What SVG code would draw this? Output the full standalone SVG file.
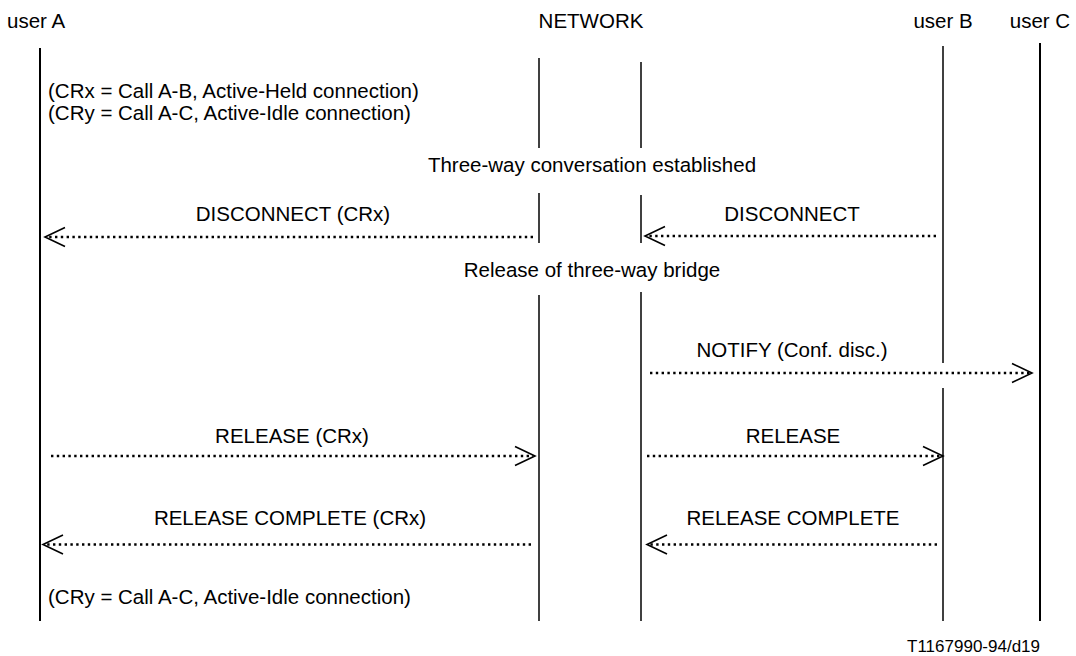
<svg xmlns="http://www.w3.org/2000/svg" width="1076" height="656" viewBox="0 0 1076 656">
<style>
text{font-family:"Liberation Sans",Arial,sans-serif;font-size:20.5px;fill:#000}
.c{text-anchor:middle}
.ll{stroke:#000;stroke-width:1.5;fill:none}
.lt{stroke:#000;stroke-width:2;fill:none}
.msg{stroke:#000;stroke-width:2.4;stroke-dasharray:2.4 3.4;fill:none}
.hd{stroke:#000;stroke-width:1.6;fill:none}
</style>
<rect width="1076" height="656" fill="#fff"/>
<g id="userA">
<text x="7" y="28">user A</text>
<line class="lt" x1="40" y1="48" x2="40" y2="621"/>
</g>
<g id="network">
<text class="c" x="591" y="28">NETWORK</text>
<line class="ll" x1="539" y1="58" x2="539" y2="148"/>
<line class="ll" x1="539" y1="193" x2="539" y2="243"/>
<line class="ll" x1="539" y1="295" x2="539" y2="621"/>
<line class="ll" x1="641" y1="62" x2="641" y2="148"/>
<line class="ll" x1="641" y1="195" x2="641" y2="243"/>
<line class="ll" x1="641" y1="292" x2="641" y2="621"/>
</g>
<g id="userB">
<text class="c" x="943" y="28">user B</text>
<line class="ll" x1="943" y1="46" x2="943" y2="363"/>
<line class="ll" x1="943" y1="388" x2="943" y2="621"/>
</g>
<g id="userC">
<text class="c" x="1040" y="28">user C</text>
<line class="lt" x1="1040" y1="43" x2="1040" y2="621"/>
</g>
<g id="notes">
<text x="48" y="98">(CRx = Call A-B, Active-Held connection)</text>
<text x="48" y="120">(CRy = Call A-C, Active-Idle connection)</text>
<text class="c" x="592" y="172">Three-way conversation established</text>
<text class="c" x="592" y="277">Release of three-way bridge</text>
<text x="48" y="604">(CRy = Call A-C, Active-Idle connection)</text>
<text x="1040" y="652" style="font-size:17px;text-anchor:end">T1167990-94/d19</text>
</g>
<g id="connectors">
<g id="m1">
<text class="c" x="293" y="221">DISCONNECT (CRx)</text>
<line class="msg" x1="533" y1="237" x2="47" y2="237"/>
<polyline class="hd" points="65,227.5 45,237 65,246.5"/>
</g>
<g id="m2">
<text class="c" x="792" y="221">DISCONNECT</text>
<line class="msg" x1="936" y1="236" x2="647" y2="236"/>
<polyline class="hd" points="665,226.5 645,236 665,245.5"/>
</g>
<g id="m3">
<text class="c" x="792" y="357">NOTIFY (Conf. disc.)</text>
<line class="msg" x1="650" y1="373" x2="1030" y2="373"/>
<polyline class="hd" points="1012,363.5 1032,373 1012,382.5"/>
</g>
<g id="m4">
<text class="c" x="292" y="443">RELEASE (CRx)</text>
<line class="msg" x1="51" y1="456" x2="533" y2="456"/>
<polyline class="hd" points="515,446.5 535,456 515,465.5"/>
</g>
<g id="m5">
<text class="c" x="793" y="443">RELEASE</text>
<line class="msg" x1="647" y1="456" x2="941" y2="456"/>
<polyline class="hd" points="923,446.5 943,456 923,465.5"/>
</g>
<g id="m6">
<text class="c" x="290" y="525">RELEASE COMPLETE (CRx)</text>
<line class="msg" x1="531" y1="544.5" x2="45" y2="544.5"/>
<polyline class="hd" points="63,535 43,544.5 63,554"/>
</g>
<g id="m7">
<text class="c" x="793" y="525">RELEASE COMPLETE</text>
<line class="msg" x1="937" y1="544.5" x2="649" y2="544.5"/>
<polyline class="hd" points="667,535 647,544.5 667,554"/>
</g>
</g>
</svg>
